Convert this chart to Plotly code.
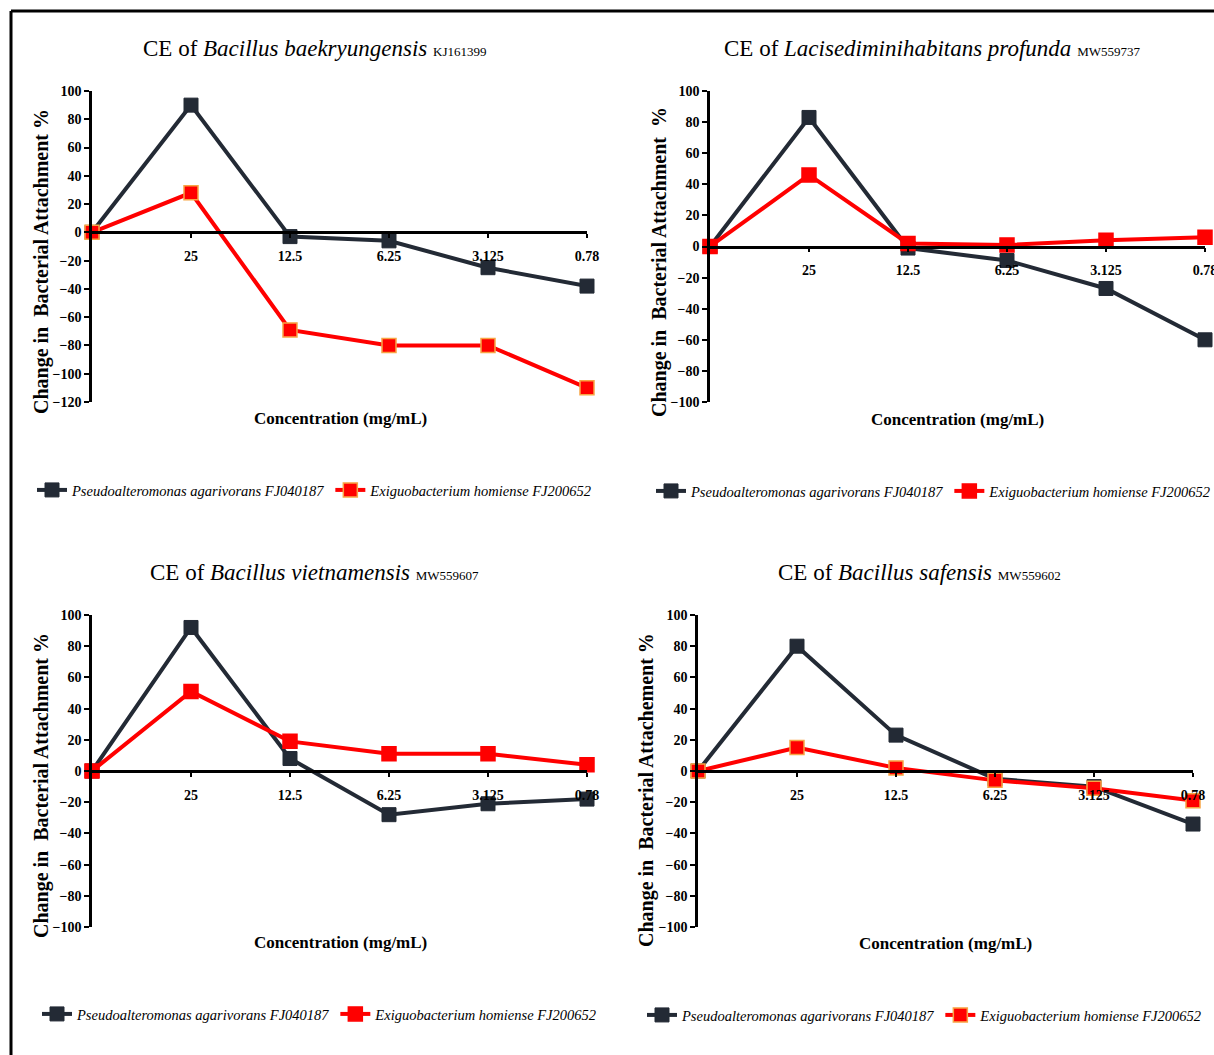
import plotly.graph_objects as go

W, H = 1214, 1055

# ---------------- data ----------------
x_cats = ["0", "25", "12.5", "6.25", "3.125", "0.78"]
tick_labels = ["25", "12.5", "6.25", "3.125", "0.78"]

series_names = ["Pseudoalteromonas agarivorans FJ040187", "Exiguobacterium homiense FJ200652"]

p1_dark = [0, 90, -3, -6, -25, -38]
p1_red = [0, 28, -69, -80, -80, -110]

p2_dark = [0, 83, -1, -9, -27, -60]
p2_red = [0, 46, 2, 1, 4, 6]

p3_dark = [0, 92, 8, -28, -21, -18]
p3_red = [0, 51, 19, 11, 11, 4]

p4_dark = [0, 80, 23, -5, -10, -34]
p4_red = [0, 15, 2, -6, -11, -19]

titles = [
    "CE of <i>Bacillus baekryungensis</i> <span style='font-size:13px'>KJ161399</span>",
    "CE of <i>Lacisediminihabitans profunda</i> <span style='font-size:13px'>MW559737</span>",
    "CE of <i>Bacillus vietnamensis</i> <span style='font-size:13px'>MW559607</span>",
    "CE of <i>Bacillus safensis</i> <span style='font-size:13px'>MW559602</span>",
]
y_titles = [
    "Change in  Bacterial Attachment %",
    "Change in  Bacterial Attachment  %",
    "Change in  Bacterial Attachment %",
    "Change in  Bacterial Attachement %",
]
x_title = "Concentration (mg/mL)"

# ---------------- layout helpers ----------------
def px(x):
    return x / W

def py(y):
    return 1 - y / H

FONT = "Liberation Serif"
DARK = "#232a35"
RED = "#ff0000"

# panel pixel geometry
panels = [
    dict(xl=92, xr=587, yt=91, yb=402, ymin=-120, ymax=100,
         dark=p1_dark, red=p1_red, red_edge="#f7a545",
         title_xy=(314, 48), ytitle_xy=(41, 262), xtitle_xy=(340, 418), legend_xy=(32, 490)),
    dict(xl=710, xr=1205, yt=91, yb=402, ymin=-100, ymax=100,
         dark=p2_dark, red=p2_red, red_edge=RED,
         title_xy=(932, 48), ytitle_xy=(659, 262), xtitle_xy=(957, 419), legend_xy=(651, 491)),
    dict(xl=92, xr=587, yt=615, yb=927, ymin=-100, ymax=100,
         dark=p3_dark, red=p3_red, red_edge=RED,
         title_xy=(314, 572), ytitle_xy=(41, 786), xtitle_xy=(340, 942), legend_xy=(37, 1014)),
    dict(xl=698, xr=1193, yt=615, yb=927, ymin=-100, ymax=100,
         dark=p4_dark, red=p4_red, red_edge="#f7a545",
         title_xy=(919, 573), ytitle_xy=(646, 790), xtitle_xy=(945, 943), legend_xy=(642, 1015)),
]

fig = go.Figure()
annotations = []
layout_axes = {}

for i, p in enumerate(panels):
    n = i + 1
    xa = "x" if n == 1 else f"x{n}"
    ya = "y" if n == 1 else f"y{n}"
    xkey = "xaxis" if n == 1 else f"xaxis{n}"
    ykey = "yaxis" if n == 1 else f"yaxis{n}"
    lg = "legend" if n == 1 else f"legend{n}"

    fig.add_trace(go.Scatter(
        x=x_cats, y=p["dark"], xaxis=xa, yaxis=ya, mode="lines+markers",
        name="<i>" + series_names[0] + "</i>", legend=lg, cliponaxis=False,
        line=dict(color=DARK, width=4),
        marker=dict(symbol="square", size=14, color=DARK, line=dict(color=DARK, width=1)),
    ))
    fig.add_trace(go.Scatter(
        x=x_cats, y=p["red"], xaxis=xa, yaxis=ya, mode="lines+markers",
        name="<i>" + series_names[1] + "</i>", legend=lg, cliponaxis=False,
        line=dict(color=RED, width=4),
        marker=dict(symbol="square", size=14, color=RED, line=dict(color=p["red_edge"], width=1.5)),
    ))

    dom_x = [px(p["xl"]), px(p["xr"])]
    dom_y = [py(p["yb"]), py(p["yt"])]
    zero_pos = dom_y[0] + (0 - p["ymin"]) / (p["ymax"] - p["ymin"]) * (dom_y[1] - dom_y[0])

    layout_axes[xkey] = dict(
        domain=dom_x, type="category", range=[0, 5], anchor="free", position=zero_pos,
        tickvals=x_cats[1:], ticktext=tick_labels,
        showline=True, linecolor="black", linewidth=2.5,
        ticks="outside", ticklen=4, tickwidth=1.5, tickcolor="black",
        ticklabelstandoff=6,
        showgrid=False, zeroline=False,
        tickfont=dict(family=FONT, size=14, color="black", weight="bold"),
    )
    layout_axes[ykey] = dict(
        domain=dom_y, range=[p["ymin"], p["ymax"]], anchor=xa,
        tickvals=list(range(p["ymin"], p["ymax"] + 1, 20)),
        showline=True, linecolor="black", linewidth=2.5,
        ticks="outside", ticklen=5, tickwidth=1.5, tickcolor="black",
        showgrid=False, zeroline=False,
        tickfont=dict(family=FONT, size=14, color="black", weight="bold"),
    )

    lx, ly = p["legend_xy"]
    layout_axes[lg] = dict(
        orientation="h", x=px(lx), y=py(ly), xanchor="left", yanchor="middle",
        xref="paper", yref="paper", bgcolor="rgba(0,0,0,0)",
        font=dict(family=FONT, size=14.5, color="black"),
        itemwidth=30, tracegroupgap=0,
    )

    tx, ty = p["title_xy"]
    annotations.append(dict(
        text=titles[i], x=px(tx), y=py(ty), xref="paper", yref="paper",
        xanchor="center", yanchor="middle", showarrow=False,
        font=dict(family=FONT, size=23, color="black"),
    ))
    yx, yy = p["ytitle_xy"]
    annotations.append(dict(
        text=y_titles[i], x=px(yx), y=py(yy), xref="paper", yref="paper",
        xanchor="center", yanchor="middle", showarrow=False, textangle=-90,
        font=dict(family=FONT, size=20, color="black", weight="bold"),
    ))
    xx, xy = p["xtitle_xy"]
    annotations.append(dict(
        text=x_title, x=px(xx), y=py(xy), xref="paper", yref="paper",
        xanchor="center", yanchor="middle", showarrow=False,
        font=dict(family=FONT, size=17, color="black", weight="bold"),
    ))

shapes = [
    dict(type="line", xref="paper", yref="paper", x0=px(11), x1=px(11), y0=-0.02, y1=py(11),
         line=dict(color="black", width=3)),
    dict(type="line", xref="paper", yref="paper", x0=px(11), x1=1.02, y0=py(11), y1=py(11),
         line=dict(color="black", width=3)),
]

fig.update_layout(
    width=W, height=H,
    margin=dict(l=0, r=0, t=0, b=0, autoexpand=False),
    paper_bgcolor="white", plot_bgcolor="white",
    annotations=annotations, shapes=shapes,
    showlegend=True,
    **layout_axes,
)

fig.write_html(
    "out.html",
    config={"displayModeBar": False},
    post_script="document.body.style.margin='0';document.body.style.overflow='hidden';",
)
